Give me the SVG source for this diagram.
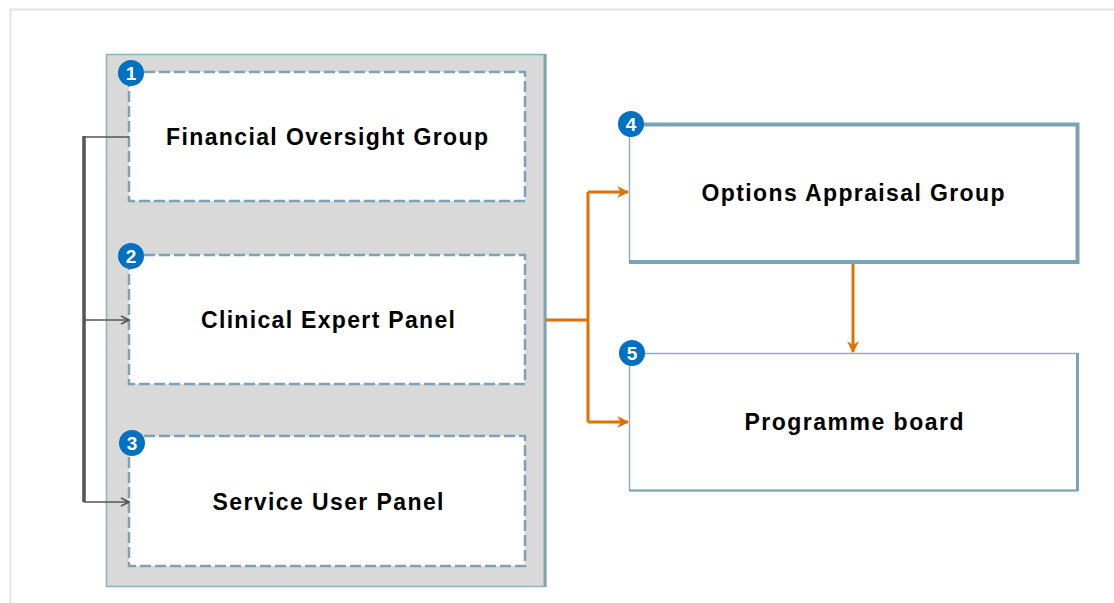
<svg xmlns="http://www.w3.org/2000/svg" width="1114" height="603" viewBox="0 0 1114 603">
<style>
.lbl{font-family:"Liberation Sans",Arial,sans-serif;font-weight:bold;font-size:23px;fill:#000;text-anchor:middle;dominant-baseline:central}
.dash{fill:#fff;stroke:#7BA3B5;stroke-width:2.5;stroke-dasharray:11 4}
.badge circle{fill:#0070C0}
.badge text{font-family:"Liberation Sans",Arial,sans-serif;font-weight:bold;font-size:19px;fill:#fff;text-anchor:middle;dominant-baseline:central}
.edge{stroke:#7BA3B5;fill:none}
.gconn{stroke:#555;fill:none}
.oconn{stroke:#E07000;stroke-width:3;fill:none}
</style>
<defs>
<marker id="ag" viewBox="0 0 10 10" refX="9" refY="5" markerWidth="10" markerHeight="10" markerUnits="userSpaceOnUse" orient="auto"><path d="M1,1 L9,5 L1,9" fill="none" stroke="#555" stroke-width="1.6"/></marker>
<marker id="ao" viewBox="0 0 10 10" refX="9" refY="5" markerWidth="12" markerHeight="12" markerUnits="userSpaceOnUse" orient="auto"><path d="M0,0 L10,5 L0,10 L3,5 Z" fill="#E07000"/></marker>
</defs>
<rect x="0" y="0" width="1114" height="603" fill="#fff"/>
<path d="M10.5,603 V9.5 H1114" fill="none" stroke="#E3E3E3" stroke-width="2"/>
<g id="container">
<rect x="106.5" y="54.5" width="439" height="532" fill="#D9D9D9" stroke="#8FB0BF" stroke-width="1.5"/>
<line x1="545" y1="54" x2="545" y2="587" stroke="#7BA3B5" stroke-width="3"/>
</g>
<g id="node1">
<rect class="dash" x="129" y="72" width="396" height="129"/>
<text class="lbl" x="327" y="137" textLength="322" lengthAdjust="spacing">Financial Oversight Group</text>
<g class="badge"><circle cx="131" cy="73" r="13"/><text x="131" y="73">1</text></g>
</g>
<g id="node2">
<rect class="dash" x="129" y="255" width="396" height="129"/>
<text class="lbl" x="328" y="320" textLength="254" lengthAdjust="spacing">Clinical Expert Panel</text>
<g class="badge"><circle cx="131" cy="256" r="13"/><text x="131" y="256">2</text></g>
</g>
<g id="node3">
<rect class="dash" x="129" y="436" width="396" height="130"/>
<text class="lbl" x="328" y="502" textLength="231" lengthAdjust="spacing">Service User Panel</text>
<g class="badge"><circle cx="132" cy="443" r="13"/><text x="132" y="443">3</text></g>
</g>
<g id="node4">
<rect x="629.5" y="124.5" width="448" height="138" fill="#fff" stroke="#8FB0BF" stroke-width="1.5"/>
<path class="edge" d="M629,124.5 H1077.5 V262 H629" stroke-width="4"/>
<text class="lbl" x="853" y="193" textLength="303" lengthAdjust="spacing">Options Appraisal Group</text>
<g class="badge"><circle cx="631" cy="124" r="13"/><text x="631" y="124">4</text></g>
</g>
<g id="node5">
<rect x="629.5" y="353.5" width="448" height="137" fill="#fff" stroke="#8FB0BF" stroke-width="1.5"/>
<line class="edge" x1="1077.5" y1="353" x2="1077.5" y2="491" stroke-width="3"/>
<line class="edge" x1="629" y1="490.5" x2="1078" y2="490.5" stroke-width="2"/>
<text class="lbl" x="854" y="422" textLength="219" lengthAdjust="spacing">Programme board</text>
<g class="badge"><circle cx="632" cy="353" r="13"/><text x="632" y="353">5</text></g>
</g>
<g id="connectors">
<path class="gconn" d="M129,137 H84" stroke-width="1.5"/>
<path class="gconn" d="M84,136 V502" stroke-width="3.5"/>
<path class="gconn" d="M84,320 H129" stroke-width="1.5" marker-end="url(#ag)"/>
<path class="gconn" d="M84,502 H129" stroke-width="1.5" marker-end="url(#ag)"/>
<path class="oconn" d="M546,320 H588"/>
<path class="oconn" d="M588,192 V422"/>
<path class="oconn" d="M588,192 H628" marker-end="url(#ao)"/>
<path class="oconn" d="M588,422 H628" marker-end="url(#ao)"/>
<path class="oconn" d="M853,264 V352" marker-end="url(#ao)"/>
</g>
</svg>
